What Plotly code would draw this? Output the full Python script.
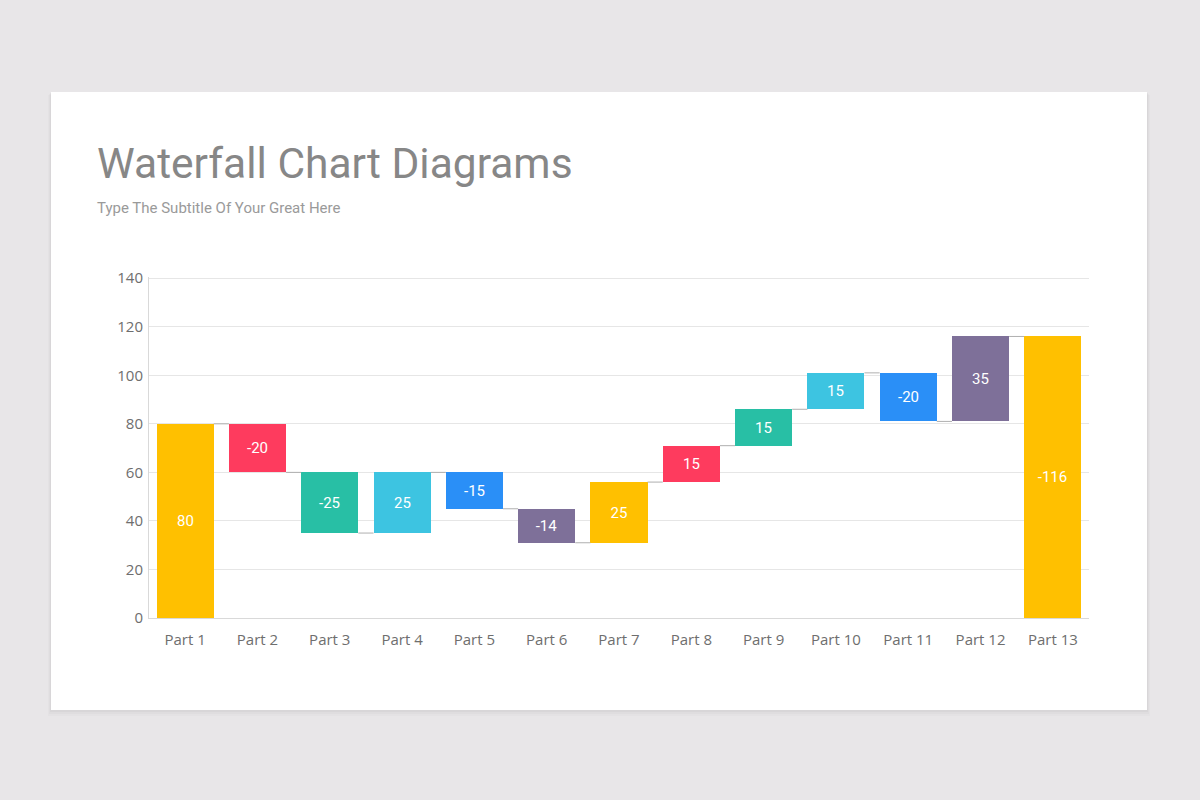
import plotly.graph_objects as go

# waterfall data
parts = ["Part 1", "Part 2", "Part 3", "Part 4", "Part 5", "Part 6", "Part 7",
         "Part 8", "Part 9", "Part 10", "Part 11", "Part 12", "Part 13"]
changes = [80, -20, -25, 25, -15, -14, 25, 15, 15, 15, -20, 35, None]  # last = total
labels = ["80", "-20", "-25", "25", "-15", "-14", "25", "15", "15", "15", "-20", "35", "-116"]
colors = ["#FFC000", "#FE3B5E", "#28BFA5", "#3DC4E1", "#2A8FF7", "#7E7099", "#FFC000",
          "#FE3B5E", "#28BFA5", "#3DC4E1", "#2A8FF7", "#7E7099", "#FFC000"]
y_ticks = [0, 20, 40, 60, 80, 100, 120, 140]

bar_w = 0.79

# running totals -> bar base / height
bases, heights, levels = [], [], []
total = 0
for c in changes:
    if c is None:
        bases.append(0)
        heights.append(total)
    else:
        start = total
        total += c
        bases.append(min(start, total))
        heights.append(abs(c))
    levels.append(total)

xs = list(range(len(parts)))

fig = go.Figure()

fig.add_trace(go.Bar(
    x=xs, y=heights, base=bases, width=bar_w,
    marker=dict(color=colors, line=dict(width=0)),
    text=labels, textposition="inside", insidetextanchor="middle",
    textfont=dict(family="Roboto", size=15, color="white"),
    hoverinfo="skip", showlegend=False,
))

# connector lines between bars
cx, cy = [], []
for i in range(len(parts) - 1):
    cx += [xs[i] + bar_w / 2, xs[i + 1] - bar_w / 2, None]
    cy += [levels[i], levels[i], None]
fig.add_trace(go.Scatter(
    x=cx, y=cy, mode="lines",
    line=dict(color="#AFAFAF", width=1),
    hoverinfo="skip", showlegend=False,
))

# plot area: x 149..1089, y 277..618 px
L, T, W, H = 149, 277, 940, 341


def px(x):
    return (x - L) / W


def py(y):
    return 1 - (y - T) / H


card = []
# soft shadow under the card
for off, col in [(6, "rgba(0,0,0,0.015)"), (4, "rgba(0,0,0,0.02)"), (2, "rgba(0,0,0,0.03)")]:
    card.append(dict(type="rect", xref="paper", yref="paper", layer="below",
                     x0=px(51 - off / 2), x1=px(1147 + off / 2),
                     y0=py(710 + off), y1=py(92 + off / 2),
                     fillcolor=col, line=dict(width=0)))
card.append(dict(type="rect", xref="paper", yref="paper", layer="below",
                 x0=px(51), x1=px(1147), y0=py(710), y1=py(92),
                 fillcolor="white", line=dict(width=0)))

fig.update_layout(
    width=1200, height=800,
    paper_bgcolor="#E8E6E8",
    plot_bgcolor="white",
    margin=dict(l=L, r=1200 - L - W, t=T, b=800 - T - H),
    bargap=0,
    font=dict(family="Open Sans", color="#666666"),
    shapes=card,
    annotations=[
        dict(text="Waterfall Chart Diagrams", xref="paper", yref="paper",
             x=px(95), y=py(163), xanchor="left", yanchor="middle", showarrow=False,
             font=dict(family="Roboto", size=42.5, color="#878787")),
        dict(text="Type The Subtitle Of Your Great Here", xref="paper", yref="paper",
             x=px(95), y=py(208), xanchor="left", yanchor="middle", showarrow=False,
             font=dict(family="Roboto", size=15, color="#9A9A9A")),
    ],
)

fig.update_xaxes(
    range=[-0.5, len(parts) - 0.5],
    tickvals=xs, ticktext=parts,
    showgrid=False, zeroline=False,
    showline=True, linecolor="#D9D9D9", linewidth=1,
    ticks="outside", ticklen=8, tickcolor="rgba(0,0,0,0)",
    tickfont=dict(family="Open Sans", size=15, color="#6E6E6E"),
)
fig.update_yaxes(
    range=[0, 140.5], tickvals=y_ticks,
    showgrid=True, gridcolor="#E6E6E6", gridwidth=1,
    zeroline=False,
    showline=True, linecolor="#D9D9D9", linewidth=1,
    ticks="outside", ticklen=2, tickcolor="rgba(0,0,0,0)",
    tickfont=dict(family="Open Sans", size=15, color="#6E6E6E"),
)

fig.write_html("out.html", config={"displayModeBar": False},
               post_script="document.body.style.margin='0';")
